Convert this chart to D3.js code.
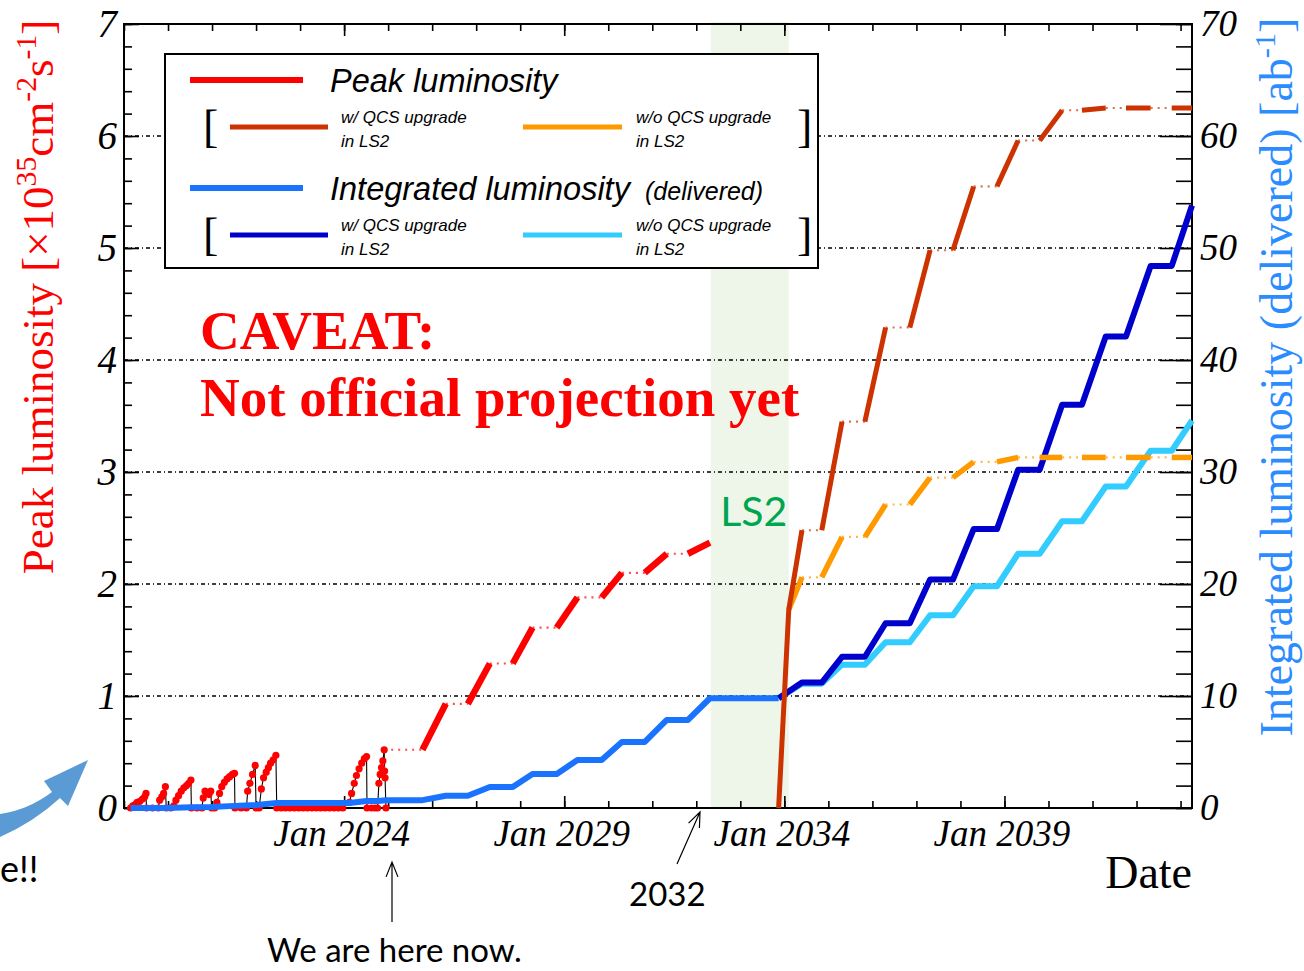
<!DOCTYPE html>
<html>
<head>
<meta charset="utf-8">
<script src="https://cdn.jsdelivr.net/npm/d3@7"></script>
<style>
  html, body { margin: 0; padding: 0; background: #ffffff; }
  svg { display: block; }
</style>
</head>
<body>
<svg id="chart" width="1304" height="971"></svg>
<script>
// ---------------- data (dates as decimal years) ----------------

// Recorded peak luminosity [x10^35 cm^-2 s^-1]
const histDates = [
  2019.15, 2019.20, 2019.25, 2019.30, 2019.36, 2019.42, 2019.47, 2019.50, 2019.51, 2019.65, 2019.78,
  2019.81, 2019.86, 2019.90, 2019.94, 2019.96, 2020.06,
  2020.13, 2020.18, 2020.24, 2020.30, 2020.36, 2020.42, 2020.47, 2020.52, 2020.53, 2020.66, 2020.77,
  2020.80, 2020.84, 2020.88, 2020.93, 2020.97, 2020.99, 2021.06,
  2021.11, 2021.17, 2021.22, 2021.28, 2021.34, 2021.40, 2021.46, 2021.51, 2021.52, 2021.66, 2021.78,
  2021.81, 2021.86, 2021.92, 2021.98, 2022.00, 2022.07,
  2022.12, 2022.17, 2022.23, 2022.28, 2022.33, 2022.39, 2022.45, 2022.47,
  2022.57, 2022.67, 2022.77, 2022.87, 2022.97, 2023.07, 2023.17, 2023.27, 2023.37, 2023.47,
  2023.57, 2023.67, 2023.77, 2023.87, 2023.97,
  2024.12, 2024.17, 2024.23, 2024.28, 2024.34, 2024.40, 2024.46, 2024.51, 2024.52, 2024.62, 2024.70, 2024.76,
  2024.79, 2024.82, 2024.85, 2024.88, 2024.91, 2024.92, 2024.93, 2024.95
];
const histPeak = [
  0, 0.02, 0.03, 0.05, 0.06, 0.08, 0.10, 0.13, 0, 0, 0,
  0.07, 0.10, 0.13, 0.19, 0, 0,
  0.02, 0.07, 0.11, 0.15, 0.18, 0.20, 0.22, 0.25, 0, 0, 0,
  0.09, 0.15, 0.14, 0.12, 0.15, 0, 0,
  0.05, 0.13, 0.19, 0.23, 0.26, 0.28, 0.30, 0.31, 0, 0, 0,
  0.15, 0.22, 0.30, 0.38, 0, 0,
  0.17, 0.27, 0.32, 0.36, 0.40, 0.43, 0.47, 0,
  0, 0, 0, 0, 0, 0, 0, 0, 0, 0,
  0, 0, 0, 0, 0,
  0.05, 0.13, 0.22, 0.29, 0.35, 0.40, 0.44, 0.46, 0, 0, 0, 0,
  0.22, 0.30, 0.36, 0.42, 0.52, 0.33, 0.27, 0
];

// Operation periods of the projection (luminosity grows only inside them)
const runPeriods = [
  [2025.78, 2026.31], [2026.81, 2027.31], [2027.83, 2028.28], [2028.83, 2029.30],
  [2029.85, 2030.31], [2030.83, 2031.33], [2031.81, 2032.31],
  [2033.87, 2034.40], [2034.85, 2035.31], [2035.83, 2036.30], [2036.85, 2037.31],
  [2037.83, 2038.30], [2038.83, 2039.31], [2039.80, 2040.31], [2040.76, 2041.30],
  [2041.76, 2042.32], [2042.80, 2043.26]
];

// Long shutdown 2
const ls2Period = [2032.33, 2034.10];

// Projected peak luminosity until LS2
const projDates = [2024.91, 2025.78, 2026.31, 2026.81, 2027.31, 2027.83, 2028.28, 2028.83,
                   2029.30, 2029.85, 2030.31, 2030.83, 2031.33, 2031.81, 2032.31];
const projPeak  = [0.52, 0.52, 0.93, 0.93, 1.29, 1.29, 1.61, 1.61,
                   1.88, 1.88, 2.10, 2.10, 2.27, 2.27, 2.37];

// Projected peak luminosity after LS2
const postDates = [2033.87, 2034.10, 2034.40, 2034.85, 2035.31, 2035.83, 2036.30, 2036.85,
                   2037.31, 2037.83, 2038.30, 2038.83, 2039.31, 2039.80, 2040.31, 2040.76,
                   2041.30, 2041.76, 2042.32, 2042.80, 2043.26];
const peakWithQCS    = [0, 1.77, 2.48, 2.48, 3.45, 3.45, 4.29, 4.29, 4.98, 4.98, 5.55, 5.55,
                        5.96, 5.96, 6.23, 6.23, 6.25, 6.25, 6.25, 6.25, 6.25];
const peakWithoutQCS = [null, 1.77, 2.06, 2.06, 2.42, 2.42, 2.71, 2.71, 2.95, 2.95, 3.09, 3.09,
                        3.13, 3.13, 3.13, 3.13, 3.13, 3.13, 3.13, 3.13, 3.13];

// Integrated luminosity [ab^-1], common part up to the end of LS2
const intDates = [2019.15, 2019.50, 2019.96, 2020.53, 2020.99, 2021.51, 2022.00, 2022.47,
                  2024.12, 2024.51, 2024.76, 2024.95, 2025.78, 2026.31, 2026.81, 2027.31,
                  2027.83, 2028.28, 2028.83, 2029.30, 2029.85, 2030.31, 2030.83, 2031.33,
                  2031.81, 2032.31, 2033.87];
const intLumi  = [0, 0.01, 0.01, 0.07, 0.09, 0.19, 0.27, 0.45,
                  0.45, 0.62, 0.62, 0.70, 0.70, 1.10, 1.10, 1.88,
                  1.88, 3.04, 3.04, 4.29, 4.29, 5.90, 5.90, 7.86,
                  7.86, 9.80, 9.80];

// Integrated luminosity after LS2
const intPostDates = [2033.87, 2034.40, 2034.85, 2035.31, 2035.83, 2036.30, 2036.85, 2037.31,
                      2037.83, 2038.30, 2038.83, 2039.31, 2039.80, 2040.31, 2040.76, 2041.30,
                      2041.76, 2042.32, 2042.80, 2043.26];
const intWithQCS    = [9.8, 11.2, 11.2, 13.5, 13.5, 16.5, 16.5, 20.4, 20.4, 24.9, 24.9, 30.2,
                       30.2, 36.0, 36.0, 42.1, 42.1, 48.4, 48.4, 53.8];
const intWithoutQCS = [9.8, 11.1, 11.1, 12.8, 12.8, 14.8, 14.8, 17.2, 17.2, 19.8, 19.8, 22.7,
                       22.7, 25.6, 25.6, 28.7, 28.7, 31.9, 31.9, 34.6];

// Axis ticks
const yearTicks   = d3.range(2019, 2044);
const labelYears  = [2024, 2029, 2034, 2039];
const peakTicks   = [0, 1, 2, 3, 4, 5, 6, 7];
const intTicks    = [0, 10, 20, 30, 40, 50, 60, 70];
const gridLevels  = [1, 2, 3, 4, 5, 6];

// ---------------- layout ----------------
const plot = { left: 124, right: 1192, top: 24, bottom: 808 };
const colors = {
  peak: "#ff0000", withQCS: "#cc3300", withoutQCS: "#ff9900",
  integ: "#1a73ff", intWith: "#0000cc", intWithout: "#33ccff",
  ls2: "#eef6e9", ls2Text: "#00a550", rightTitle: "#2a8cff"
};
const serif = "'Liberation Serif', 'Times New Roman', serif";
const sans = "'Liberation Sans', Arial, sans-serif";
const calibri = "Lato, 'Open Sans', sans-serif";

const x = d3.scaleLinear().domain([2019.0, 2043.26]).range([plot.left, plot.right]);
const yPeak = d3.scaleLinear().domain([0, 7]).range([plot.bottom, plot.top]);
const yInt = d3.scaleLinear().domain([0, 70]).range([plot.bottom, plot.top]);

const svg = d3.select("#chart");

// LS2 band
svg.append("rect")
  .attr("x", x(ls2Period[0])).attr("width", x(ls2Period[1]) - x(ls2Period[0]))
  .attr("y", plot.top - 2).attr("height", plot.bottom - plot.top + 2)
  .attr("fill", colors.ls2);

// horizontal dotted grid
svg.append("g").selectAll("line").data(gridLevels).join("line")
  .attr("x1", plot.left).attr("x2", plot.right)
  .attr("y1", d => yPeak(d)).attr("y2", d => yPeak(d))
  .attr("stroke", "#000").attr("stroke-width", 1.3)
  .attr("stroke-dasharray", "4,3,1,3");

// ---------------- axes ----------------
function styleAxis(g) {
  g.select(".domain").remove();
  g.selectAll(".tick line").attr("stroke", "#000").attr("stroke-width", 1.6);
  g.selectAll("text").attr("fill", "#000");
}

// bottom: yearly ticks, longer ones with labels
svg.append("g").attr("transform", `translate(0,${plot.bottom})`)
  .call(d3.axisBottom(x).tickValues(yearTicks).tickSizeInner(-7).tickSizeOuter(0).tickFormat(""))
  .call(styleAxis);
const xLab = svg.append("g").attr("transform", `translate(0,${plot.bottom})`)
  .call(d3.axisBottom(x).tickValues(labelYears).tickSizeInner(-12).tickSizeOuter(0)
        .tickPadding(12).tickFormat(d => "Jan " + d))
  .call(styleAxis);
xLab.selectAll("text").attr("font-family", serif).attr("font-style", "italic")
  .attr("font-size", 37).attr("dx", -3);

// top
svg.append("g").attr("transform", `translate(0,${plot.top})`)
  .call(d3.axisTop(x).tickValues(yearTicks).tickSizeInner(-7).tickSizeOuter(0).tickFormat(""))
  .call(styleAxis);
svg.append("g").attr("transform", `translate(0,${plot.top})`)
  .call(d3.axisTop(x).tickValues(labelYears).tickSizeInner(-12).tickSizeOuter(0).tickFormat(""))
  .call(styleAxis);

// left (peak luminosity)
svg.append("g").attr("transform", `translate(${plot.left},0)`)
  .call(d3.axisLeft(yPeak).tickValues(d3.range(0, 7.001, 0.2)).tickSizeInner(-8).tickSizeOuter(0).tickFormat(""))
  .call(styleAxis);
const yLab = svg.append("g").attr("transform", `translate(${plot.left},0)`)
  .call(d3.axisLeft(yPeak).tickValues(peakTicks).tickSizeInner(-15).tickSizeOuter(0).tickPadding(7).tickFormat(d3.format("d")))
  .call(styleAxis);
yLab.selectAll("text").attr("font-family", serif).attr("font-style", "italic").attr("font-size", 39);

// right (integrated luminosity)
svg.append("g").attr("transform", `translate(${plot.right},0)`)
  .call(d3.axisRight(yInt).tickValues(d3.range(0, 70.001, 2)).tickSizeInner(-16).tickSizeOuter(0).tickFormat(""))
  .call(styleAxis);
const y2Lab = svg.append("g").attr("transform", `translate(${plot.right},0)`)
  .call(d3.axisRight(yInt).tickValues(intTicks).tickSizeInner(-32).tickSizeOuter(0).tickPadding(8).tickFormat(d3.format("d")))
  .call(styleAxis);
y2Lab.selectAll("text").attr("font-family", serif).attr("font-style", "italic").attr("font-size", 37);

// frame
svg.append("rect")
  .attr("x", plot.left).attr("y", plot.top)
  .attr("width", plot.right - plot.left).attr("height", plot.bottom - plot.top)
  .attr("fill", "none").attr("stroke", "#000").attr("stroke-width", 2);

// ---------------- legend ----------------
const leg = svg.append("g");
leg.append("rect").attr("x", 165).attr("y", 54).attr("width", 653).attr("height", 214)
  .attr("fill", "#fff").attr("stroke", "#000").attr("stroke-width", 2);

function legLine(x1, x2, y, color, w) {
  leg.append("line").attr("x1", x1).attr("x2", x2).attr("y1", y).attr("y2", y)
    .attr("stroke", color).attr("stroke-width", w);
}
function legText(xp, yp, txt, size) {
  return leg.append("text").attr("x", xp).attr("y", yp).text(txt)
    .attr("font-family", sans).attr("font-style", "italic").attr("font-size", size).attr("fill", "#000");
}
function bracket(xp, yp, ch) {
  leg.append("text").attr("x", xp).attr("y", yp).text(ch)
    .attr("font-family", serif).attr("font-size", 46).attr("fill", "#000");
}

legLine(190, 303, 80, colors.peak, 6);
legText(330, 92, "Peak luminosity", 32.5);
bracket(203, 142, "[");
legLine(230, 328, 127, colors.withQCS, 5);
legText(341, 123, "w/ QCS upgrade", 17);
legText(341, 147, "in LS2", 17);
legLine(523, 622, 127, colors.withoutQCS, 5);
legText(636, 123, "w/o QCS upgrade", 17);
legText(636, 147, "in LS2", 17);
bracket(797, 142, "]");

legLine(190, 303, 188, colors.integ, 6);
legText(330, 200, "Integrated luminosity", 32.5);
legText(645, 200, "(delivered)", 25);
bracket(203, 250, "[");
legLine(230, 328, 235, colors.intWith, 5);
legText(341, 231, "w/ QCS upgrade", 17);
legText(341, 255, "in LS2", 17);
legLine(523, 622, 235, colors.intWithout, 5);
legText(636, 231, "w/o QCS upgrade", 17);
legText(636, 255, "in LS2", 17);
bracket(797, 250, "]");

// ---------------- series ----------------
const zip = (ts, vs) => ts.map((t, i) => ({ t, v: vs[i] })).filter(p => p.v != null);
const inRun = t => runPeriods.some(r => t >= r[0] - 1e-6 && t <= r[1] + 1e-6);

// split a projection into running (solid) and idle (dotted) pieces
function phases(points) {
  const groups = [];
  for (let i = 0; i < points.length - 1; i++) {
    const run = inRun((points[i].t + points[i + 1].t) / 2);
    const last = groups[groups.length - 1];
    if (last && last.run === run) last.pts.push(points[i + 1]);
    else groups.push({ run, pts: [points[i], points[i + 1]] });
  }
  return groups;
}

const lineInt = d3.line().x(d => x(d.t)).y(d => yInt(d.v));
const linePeak = d3.line().x(d => x(d.t)).y(d => yPeak(d.v));

// recorded peak luminosity: thin black graph with red markers
const hist = zip(histDates, histPeak);
svg.append("path").attr("d", linePeak(hist))
  .attr("fill", "none").attr("stroke", "#000").attr("stroke-width", 1.1);
svg.append("g").selectAll("circle").data(hist).join("circle")
  .attr("cx", d => x(d.t)).attr("cy", d => yPeak(d.v)).attr("r", 3.6)
  .attr("fill", colors.peak);

// integrated luminosity
function drawInt(points, color) {
  svg.append("path").attr("d", lineInt(points))
    .attr("fill", "none").attr("stroke", color).attr("stroke-width", 6)
    .attr("stroke-linejoin", "round");
}
drawInt(zip(intDates, intLumi), colors.integ);
drawInt(zip(intPostDates, intWithoutQCS), colors.intWithout);
drawInt(zip(intPostDates, intWithQCS), colors.intWith);

// projected peak luminosity
function drawPeak(points, color, width) {
  phases(points).forEach(g => {
    const p = svg.append("path").attr("d", linePeak(g.pts)).attr("fill", "none")
      .attr("stroke", color).attr("stroke-linecap", "butt").attr("stroke-linejoin", "miter");
    if (g.run) p.attr("stroke-width", width);
    else p.attr("stroke-width", 2.2).attr("stroke-dasharray", "2,5").attr("stroke-opacity", 0.7);
  });
}
drawPeak(zip(projDates, projPeak), colors.peak, 6.5);
drawPeak(zip(postDates, peakWithoutQCS), colors.withoutQCS, 5.5);
drawPeak(zip(postDates, peakWithQCS), colors.withQCS, 5);

// ---------------- titles and notes ----------------
function rotTitle(xp, yp, color, size, parts) {
  const t = svg.append("text")
    .attr("transform", `translate(${xp},${yp}) rotate(-90)`)
    .attr("text-anchor", "middle").attr("font-family", serif).attr("font-size", size).attr("fill", color);
  parts.forEach(p => {
    const s = t.append("tspan").text(p.s);
    if (p.sup) s.attr("font-size", size * 0.66).attr("dy", -size * 0.38);
    else if (p.after) s.attr("dy", size * 0.38);
  });
}
rotTitle(53, 297, colors.peak, 45, [
  { s: "Peak luminosity [\u00d710" }, { s: "35", sup: true }, { s: "cm", after: true },
  { s: "-2", sup: true }, { s: "s", after: true }, { s: "-1", sup: true }, { s: "]", after: true }
]);
rotTitle(1292, 377, colors.rightTitle, 46, [
  { s: "Integrated luminosity (delivered) [ab" }, { s: "-1", sup: true }, { s: "]", after: true }
]);

svg.append("text").attr("x", plot.right).attr("y", 888).attr("text-anchor", "end")
  .attr("font-family", serif).attr("font-size", 46).attr("fill", "#000").text("Date");

svg.append("text").attr("x", (x(ls2Period[0]) + x(ls2Period[1])) / 2 + 4).attr("y", 526)
  .attr("text-anchor", "middle").attr("font-family", calibri).attr("font-size", 41)
  .attr("fill", colors.ls2Text).text("LS2");

const caveat = svg.append("g").attr("font-family", serif).attr("font-weight", "bold")
  .attr("font-size", 55).attr("fill", "#ff0000");
caveat.append("text").attr("x", 200).attr("y", 349).text("CAVEAT:");
caveat.append("text").attr("x", 200).attr("y", 416).text("Not official projection yet");

// pointer notes below the axis
function arrow(x1, y1, x2, y2) {
  const a = Math.atan2(y2 - y1, x2 - x1), L = 16, s = 0.38;
  svg.append("path")
    .attr("d", `M${x1},${y1}L${x2},${y2}M${x2 - L * Math.cos(a - s)},${y2 - L * Math.sin(a - s)}L${x2},${y2}L${x2 - L * Math.cos(a + s)},${y2 - L * Math.sin(a + s)}`)
    .attr("fill", "none").attr("stroke", "#000").attr("stroke-width", 1.2);
}
arrow(392, 922, 392, 862);
arrow(677, 864, 700, 812);
svg.append("text").attr("x", 267).attr("y", 962).attr("font-family", calibri)
  .attr("font-size", 33).attr("fill", "#000").text("We are here now.");
svg.append("text").attr("x", 629).attr("y", 906).attr("font-family", calibri)
  .attr("font-size", 33).attr("fill", "#000").text("2032");

// margin note on the left
svg.append("path")
  .attr("d", "M0,814 Q28,810 52,792 L44,781 L88,760 L68,806 L60,798 Q34,822 0,837 Z")
  .attr("fill", "#5b9bd5");
svg.append("text").attr("x", 0).attr("y", 882).attr("font-family", calibri)
  .attr("font-size", 36).attr("fill", "#000").text("e!!");
</script>
</body>
</html>
